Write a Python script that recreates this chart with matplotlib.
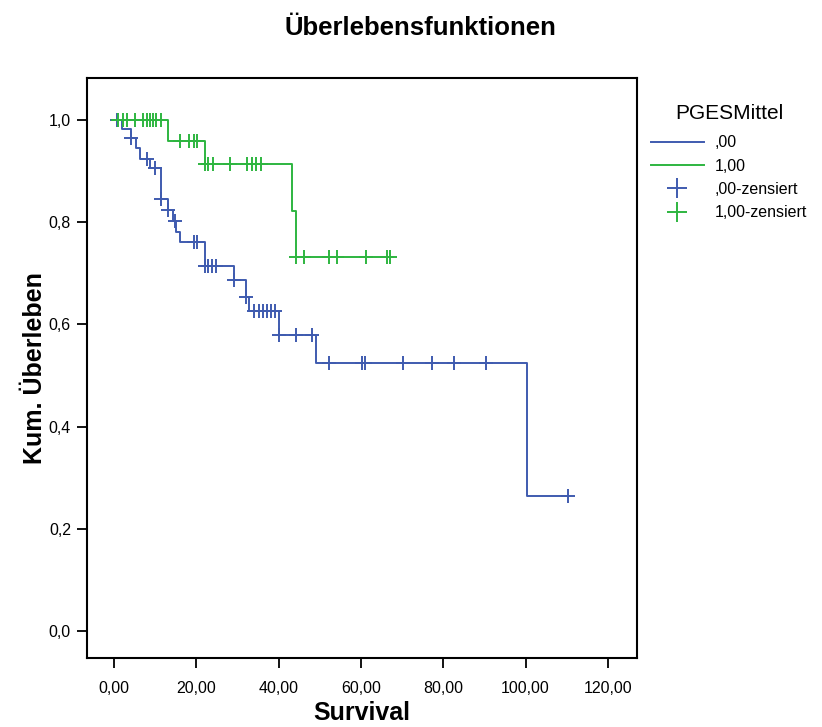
import numpy as np
import matplotlib
matplotlib.use('Agg')
import matplotlib.pyplot as plt
from matplotlib.lines import Line2D

plt.rcParams['font.family'] = ['Liberation Sans', 'DejaVu Sans']

# colors
blue = '#3F5BAF'
green = '#2EB540'

# group ,00 - step times and survival values
blue_t = [0, 1.8, 4.1, 5.3, 6.3, 8.7, 11.4, 13.2, 14.3, 15.1, 16.0, 22.1, 29.2,
          32.0, 32.9, 40.1, 49.0, 100.3, 110.2]
blue_s = [1.0, 0.982, 0.964, 0.945, 0.924, 0.905, 0.845, 0.824, 0.803, 0.781,
          0.761, 0.715, 0.686, 0.654, 0.626, 0.579, 0.524, 0.264, 0.264]
blue_cens = [0.8, 4.1, 7.9, 10.0, 11.4, 13.2, 14.8, 19.3, 20.1, 22.1, 22.9, 23.8,
             24.8, 29.2, 32.0, 33.9, 35.1, 36.1, 37.1, 38.1, 39.1, 40.1, 44.2,
             48.0, 52.3, 60.2, 61.0, 70.2, 77.2, 82.5, 90.4, 110.2]

# group 1,00
green_t = [0.7, 13.1, 22.1, 43.3, 44.2, 67.1]
green_s = [1.0, 0.959, 0.914, 0.821, 0.732, 0.732]
green_cens = [1.0, 2.1, 3.2, 5.1, 7.1, 7.9, 8.7, 9.5, 10.3, 11.3, 16.0, 18.1,
              19.3, 20.1, 22.1, 22.9, 24.0, 28.2, 32.2, 33.4, 34.4, 35.7, 44.2,
              46.2, 52.2, 54.1, 61.2, 66.4, 67.1]

xticks = [0, 20, 40, 60, 80, 100, 120]
xtick_labels = ['0,00', '20,00', '40,00', '60,00', '80,00', '100,00', '120,00']
yticks = [0.0, 0.2, 0.4, 0.6, 0.8, 1.0]
ytick_labels = ['0,0', '0,2', '0,4', '0,6', '0,8', '1,0']


def surv_at(t, s, c):
    # survival value of the step function at censoring times
    idx = np.searchsorted(t, c, side='right') - 1
    idx = np.clip(idx, 0, len(s) - 1)
    return np.array(s)[idx]


fig = plt.figure(figsize=(8.22, 7.27), dpi=100)
ax = fig.add_axes([0.1058, 0.0949, 0.6697, 0.7978])

ax.plot(blue_t, blue_s, drawstyle='steps-post', color=blue, lw=1.4, zorder=3)
ax.plot(blue_cens, surv_at(blue_t, blue_s, blue_cens), ls='none', marker='+',
        ms=9.5, mew=1.4, color=blue, zorder=3)
ax.plot(green_t, green_s, drawstyle='steps-post', color=green, lw=1.4, zorder=4)
ax.plot(green_cens, surv_at(green_t, green_s, green_cens), ls='none', marker='+',
        ms=9.5, mew=1.4, color=green, zorder=4)

ax.set_xlim(-6.6, 127.2)
ax.set_ylim(-0.053, 1.082)
ax.set_xticks(xticks)
ax.set_xticklabels(xtick_labels)
ax.set_yticks(yticks)
ax.set_yticklabels(ytick_labels)
ax.tick_params(axis='both', direction='out', length=7.5, width=1.3,
               labelsize=11.5, color='black')
ax.tick_params(axis='x', pad=9)
ax.tick_params(axis='y', pad=4)
for sp in ax.spines.values():
    sp.set_linewidth(1.5)

ax.set_xlabel('Survival', fontsize=18, fontweight='bold', labelpad=4)
ax.set_ylabel('Kum. Überleben', fontsize=18, fontweight='bold', labelpad=1)
fig.text(0.511, 0.962, 'Überlebensfunktionen', ha='center', va='center',
         fontsize=18.5, fontweight='bold')

handles = [
    Line2D([], [], color=blue, lw=1.4),
    Line2D([], [], color=green, lw=1.4),
    Line2D([], [], color=blue, ls='none', marker='+', ms=15, mew=1.4),
    Line2D([], [], color=green, ls='none', marker='+', ms=15, mew=1.4),
]
labels = [',00', '1,00', ',00-zensiert', '1,00-zensiert']
leg = fig.legend(handles, labels, title='PGESMittel', loc='upper left',
                 bbox_to_anchor=(0.792, 0.857), frameon=False, fontsize=11.5,
                 title_fontsize=15, handlelength=3.3, handletextpad=0.7,
                 labelspacing=0.52, borderpad=0, borderaxespad=0)
leg._legend_box.sep = 9

fig.savefig('out.png', dpi=100)
